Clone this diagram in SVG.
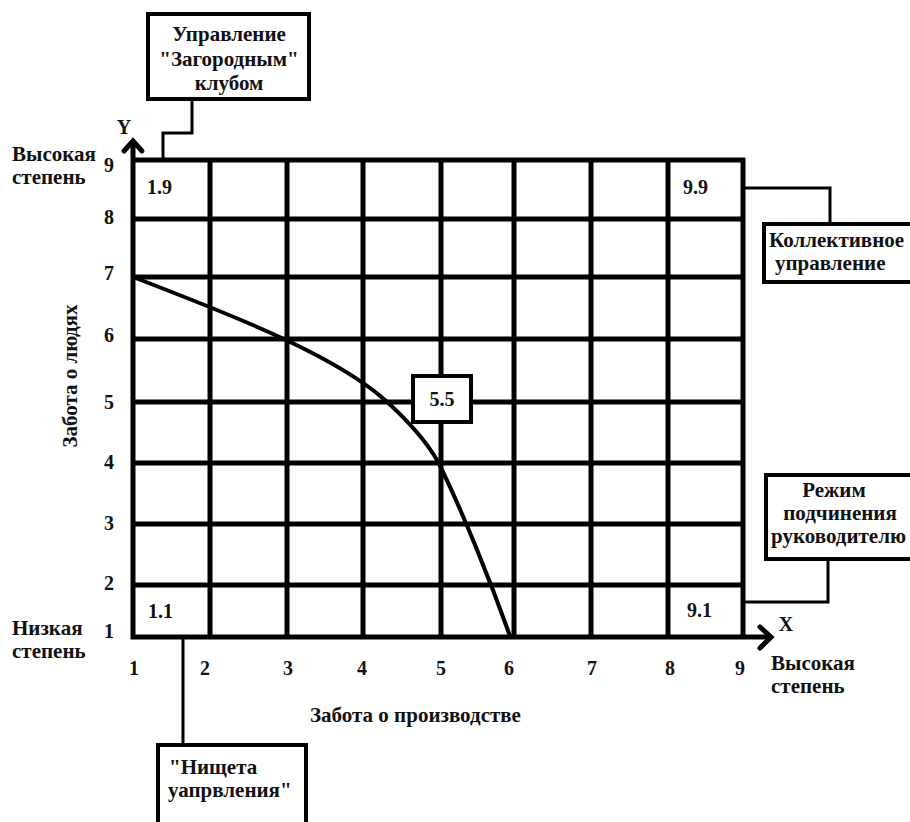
<svg xmlns="http://www.w3.org/2000/svg" width="910" height="822" viewBox="0 0 910 822">
<style>
text{font-family:'Liberation Serif','DejaVu Serif',serif;font-weight:700;fill:#111;}
.lbl{font-size:21px;}
.num{font-size:20px;}
.mid{text-anchor:middle;}
.grid{stroke:#000;stroke-width:5;fill:none;}
.box{stroke:#000;stroke-width:4;fill:#fff;}
.con{stroke:#000;stroke-width:3;fill:none;}
.arrow{stroke:#000;stroke-width:5;fill:none;stroke-linecap:round;stroke-linejoin:miter;}
</style>
<rect width="910" height="822" fill="#fff"/>
<g id="grid">
  <path class="grid" d="M210,160V637M287,160V637M363,160V637M441,160V637M514,160V637M591,160V637M668,160V637M743,158V637"/>
  <path class="grid" d="M133,160H745M133,219H743M133,277H743M133,339H743M133,402H743M133,463H743M133,524H743M133,585H743"/>
</g>
<g id="axes">
  <path class="grid" d="M133,142V637H770"/>
  <polyline class="arrow" points="124,151 133,141 142,151"/>
  <polyline class="arrow" points="760,627 771,637 760,648"/>
  <text class="num mid" x="124" y="134">Y</text>
  <text class="num mid" x="786" y="631">X</text>
</g>
<g id="y-ticks">
  <text class="num mid" x="109" y="172">9</text>
  <text class="num mid" x="109" y="224">8</text>
  <text class="num mid" x="109" y="280">7</text>
  <text class="num mid" x="109" y="342">6</text>
  <text class="num mid" x="109" y="409">5</text>
  <text class="num mid" x="109" y="469">4</text>
  <text class="num mid" x="109" y="530">3</text>
  <text class="num mid" x="109" y="590">2</text>
  <text class="num mid" x="109" y="638">1</text>
</g>
<g id="x-ticks">
  <text class="num mid" x="134" y="675">1</text>
  <text class="num mid" x="205" y="675">2</text>
  <text class="num mid" x="288" y="675">3</text>
  <text class="num mid" x="362" y="675">4</text>
  <text class="num mid" x="441" y="675">5</text>
  <text class="num mid" x="509" y="675">6</text>
  <text class="num mid" x="592" y="675">7</text>
  <text class="num mid" x="670" y="675">8</text>
  <text class="num mid" x="740" y="675">9</text>
</g>
<g id="axis-labels">
  <text class="lbl" x="12" y="161">Высокая</text>
  <text class="lbl" x="12" y="184">степень</text>
  <text class="lbl" x="12" y="635">Низкая</text>
  <text class="lbl" x="12" y="658">степень</text>
  <text class="lbl" x="771" y="670">Высокая</text>
  <text class="lbl" x="771" y="693">степень</text>
  <text class="lbl mid" x="77" y="376" font-size="20" transform="rotate(-90 77 376)">Забота о людях</text>
  <text class="lbl" x="310" y="722">Забота о производстве</text>
</g>
<g id="cell-labels">
  <text class="num" x="147" y="194">1.9</text>
  <text class="num" x="683" y="194">9.9</text>
  <text class="num" x="148" y="618">1.1</text>
  <text class="num" x="687" y="617">9.1</text>
</g>
<g id="curve">
  <path d="M133,277 C185,297 240,318 286,340 C320,356 360,378 385,400 C405,418 424,438 437,460 C460,505 490,580 510,636" fill="none" stroke="#000" stroke-width="4"/>
</g>
<g id="connectors">
  <polyline class="con" points="192,99 192,133 163,133 163,160"/>
  <polyline class="con" points="743,188 830,188 830,224"/>
  <polyline class="con" points="828,559 828,602 743,602"/>
  <polyline class="con" points="183,637 183,745"/>
</g>
<g id="node-country-club">
  <rect class="box" x="148" y="14" width="161" height="85"/>
  <text class="lbl mid" x="229" y="41">Управление</text>
  <text class="lbl mid" x="229" y="66">"Загородным"</text>
  <text class="lbl mid" x="229" y="90">клубом</text>
</g>
<g id="node-team">
  <rect class="box" x="764" y="224" width="160" height="58"/>
  <text class="lbl" x="769" y="247">Коллективное</text>
  <text class="lbl" x="775" y="270">управление</text>
</g>
<g id="node-authority">
  <rect class="box" x="766" y="475" width="160" height="84"/>
  <text class="lbl mid" x="834" y="497">Режим</text>
  <text class="lbl mid" x="840" y="520">подчинения</text>
  <text class="lbl" x="771" y="543">руководителю</text>
</g>
<g id="node-impoverished">
  <rect class="box" x="158" y="745" width="148" height="95"/>
  <text class="lbl" x="169" y="774">"Нищета</text>
  <text class="lbl" x="168" y="797">уапрвления"</text>
</g>
<g id="node-middle">
  <rect class="box" x="413" y="376" width="58" height="46" stroke-width="3"/>
  <text class="num mid" x="442" y="406">5.5</text>
</g>
</svg>
